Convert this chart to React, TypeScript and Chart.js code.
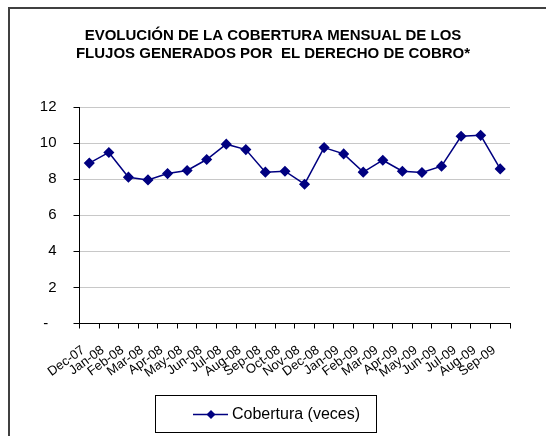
import React, { useEffect, useRef } from "react";
import { Chart, registerables } from "chart.js";

Chart.register(...registerables);

const categories = [
  "Dec-07", "Jan-08", "Feb-08", "Mar-08", "Apr-08", "May-08", "Jun-08", "Jul-08",
  "Aug-08", "Sep-08", "Oct-08", "Nov-08", "Dec-08", "Jan-09", "Feb-09", "Mar-09",
  "Apr-09", "May-09", "Jun-09", "Jul-09", "Aug-09", "Sep-09",
];
const cobertura = [
  8.89, 9.48, 8.11, 7.96, 8.31, 8.48, 9.09, 9.94, 9.64, 8.39, 8.44,
  7.72, 9.75, 9.4, 8.39, 9.05, 8.44, 8.37, 8.72, 10.38, 10.43, 8.57,
];
const seriesLabel = "Cobertura (veces)";
const titleLines = [
  "EVOLUCIÓN DE LA COBERTURA MENSUAL DE LOS",
  "FLUJOS GENERADOS POR  EL DERECHO DE COBRO*",
];
const yTicks = [0, 2, 4, 6, 8, 10, 12];

const FONT = "'Liberation Sans', Arial, sans-serif";
const NAVY = "#000080";

const decorPlugin = {
  id: "decor",
  beforeDraw(chart: any) {
    const { ctx, width, height } = chart;
    ctx.save();
    ctx.fillStyle = "#fff";
    ctx.fillRect(0, 0, width, height);
    ctx.restore();
  },
  afterDraw(chart: any) {
    const { ctx, width, height } = chart;
    ctx.save();
    // frame
    ctx.strokeStyle = "#404040";
    ctx.lineWidth = 2;
    ctx.beginPath();
    ctx.moveTo(9, height);
    ctx.lineTo(9, 8);
    ctx.lineTo(width, 8);
    ctx.stroke();
    // title
    ctx.fillStyle = "#000";
    ctx.font = `bold 15px ${FONT}`;
    ctx.textAlign = "center";
    ctx.textBaseline = "alphabetic";
    ctx.fillText(titleLines[0], 273, 40);
    ctx.fillText(titleLines[1], 273, 58);
    // legend
    ctx.strokeStyle = "#000";
    ctx.lineWidth = 1;
    ctx.strokeRect(155.5, 395.5, 221, 37);
    ctx.strokeStyle = NAVY;
    ctx.lineWidth = 1.5;
    ctx.beginPath();
    ctx.moveTo(193, 414.5);
    ctx.lineTo(228, 414.5);
    ctx.stroke();
    ctx.fillStyle = NAVY;
    ctx.beginPath();
    const cx = 211, cy = 414.5, r = 4.5;
    ctx.moveTo(cx, cy - r);
    ctx.lineTo(cx + r, cy);
    ctx.lineTo(cx, cy + r);
    ctx.lineTo(cx - r, cy);
    ctx.closePath();
    ctx.fill();
    ctx.fillStyle = "#000";
    ctx.font = `16px ${FONT}`;
    ctx.textAlign = "left";
    ctx.textBaseline = "middle";
    ctx.fillText(seriesLabel, 232, 415);
    ctx.restore();
  },
};

export default function App() {
  const ref = useRef<HTMLCanvasElement | null>(null);
  useEffect(() => {
    if (!ref.current) return;
    const chart = new Chart(ref.current, {
      type: "line",
      data: {
        labels: categories,
        datasets: [
          {
            label: seriesLabel,
            data: cobertura,
            borderColor: NAVY,
            backgroundColor: NAVY,
            borderWidth: 1.5,
            pointStyle: "rectRot",
            pointRadius: 4.5,
            pointBackgroundColor: NAVY,
            pointBorderColor: NAVY,
            tension: 0,
          },
        ],
      },
      options: {
        animation: false,
        responsive: false,
        layout: { padding: { left: 0, right: 36, top: 107, bottom: 0 } },
        plugins: {
          legend: { display: false },
          title: { display: false },
          tooltip: { enabled: false },
        },
        scales: {
          x: {
            offset: true,
            grid: {
              display: true,
              offset: true,
              drawOnChartArea: false,
              tickLength: 5,
              tickColor: "#000",
            },
            border: { color: "#000", width: 1 },
            ticks: {
              autoSkip: false,
              minRotation: 36,
              maxRotation: 36,
              padding: 14,
              labelOffset: -6,
              color: "#000",
              font: { family: FONT, size: 13 },
            },
            afterFit(scale: any) {
              scale.height = 112.5;
            },
          },
          y: {
            min: 0,
            max: 12,
            afterBuildTicks(scale: any) {
              scale.ticks = yTicks.map((v) => ({ value: v }));
            },
            grid: {
              color: "#c8c8c8",
              tickColor: "#000",
              tickLength: 6,
            },
            border: { color: "#000", width: 1 },
            ticks: {
              padding: 17,
              color: "#000",
              font: { family: FONT, size: 15 },
              callback: (v: any) => (Number(v) === 0 ? "-  " : String(v)),
            },
            afterFit(scale: any) {
              scale.width = 79.5;
            },
          },
        },
      },
      plugins: [decorPlugin],
    });
    return () => chart.destroy();
  }, []);
  return (
    <div style={{ position: "fixed", left: 0, top: 0, width: 546, height: 436 }}>
      <canvas ref={ref} width={546} height={436} style={{ display: "block" }} />
    </div>
  );
}
